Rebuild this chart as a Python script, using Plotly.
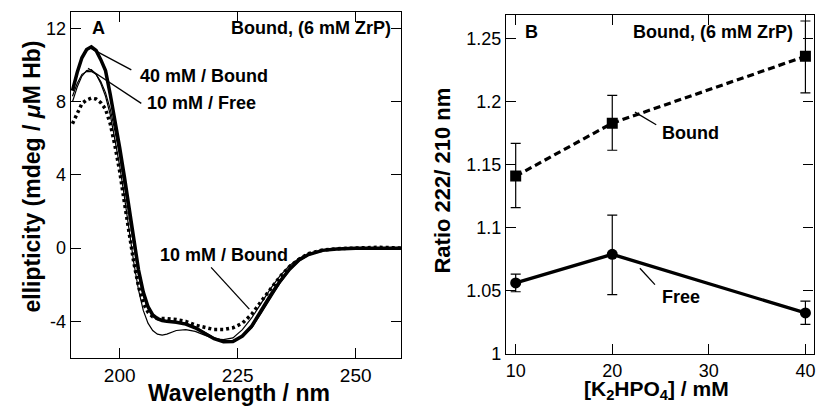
import plotly.graph_objects as go

# ---------------- Panel A data (CD spectra) ----------------
wavelength = [190, 191, 192, 193, 194, 195, 196, 197, 198, 199, 200, 201, 202, 203, 204,
              205, 206, 207, 208, 209, 210, 212, 214, 216, 218, 220, 222, 224, 226, 228,
              230, 232, 234, 236, 238, 240, 243, 246, 250, 255, 260]

bound_40mM = [8.6, 9.6, 10.4, 10.85, 11.0, 10.8, 10.3, 9.7, 8.4, 7.0, 5.5, 3.9, 2.2, 0.4, -1.2,
              -2.4, -3.2, -3.65, -3.85, -3.95, -4.0, -4.05, -4.15, -4.35, -4.65, -4.95, -5.12, -5.1, -4.8, -4.25,
              -3.4, -2.55, -1.8, -1.15, -0.65, -0.35, -0.12, -0.04, 0.0, 0.0, 0.0]

bound_20mM = [8.3, 9.0, 9.5, 9.65, 9.65, 9.5, 9.1, 8.5, 7.6, 6.4, 5.0, 3.4, 1.7, 0.0, -1.5,
              -2.6, -3.3, -3.7, -3.9, -3.95, -4.0, -4.05, -4.1, -4.3, -4.6, -4.9, -5.05, -5.05, -4.85, -4.35,
              -3.55, -2.7, -1.9, -1.2, -0.7, -0.38, -0.13, -0.04, 0.0, 0.0, 0.0]

free_10mM = [8.0, 8.8, 9.4, 9.7, 9.75, 9.5, 9.0, 8.3, 7.3, 6.0, 4.5, 2.8, 1.0, -0.8, -2.3,
             -3.4, -4.1, -4.5, -4.7, -4.75, -4.7, -4.5, -4.45, -4.55, -4.75, -4.95, -5.0, -4.9, -4.45, -3.8,
             -3.0, -2.2, -1.5, -0.95, -0.55, -0.3, -0.1, -0.03, 0.0, 0.0, 0.0]

bound_10mM = [6.8, 7.3, 7.9, 8.1, 8.2, 8.15, 7.95, 7.6, 6.8, 5.6, 4.2, 2.5, 0.8, -0.8, -2.1,
              -3.0, -3.5, -3.75, -3.85, -3.85, -3.85, -3.9, -4.0, -4.2, -4.35, -4.45, -4.45, -4.35, -4.1, -3.6,
              -2.9, -2.2, -1.55, -1.0, -0.6, -0.3, -0.1, -0.03, 0.0, 0.05, 0.0]

a_xticks = [200, 225, 250]
a_yticks = [-4, 0, 4, 8, 12]
a_yticktext = ["-4", "0", "4", "8", "12"]

# ---------------- Panel B data (ratio 222/210 nm) ----------------
k2hpo4 = [10, 20, 40]
ratio_bound = [1.141, 1.183, 1.236]
ratio_bound_err_plus = [0.026, 0.022, 0.028]
ratio_bound_err_minus = [0.025, 0.0215, 0.029]
ratio_free = [1.0563, 1.079, 1.0325]
ratio_free_err_plus = [0.007, 0.031, 0.0093]
ratio_free_err_minus = [0.007, 0.032, 0.009]

b_xticks = [10, 20, 30, 40]
b_yticks = [1.0, 1.05, 1.1, 1.15, 1.2, 1.25]
b_yticktext = ["1", "1.05", "1.1", "1.15", "1.2", "1.25"]

FONT = "Arial, Liberation Sans, Helvetica, sans-serif"

fig = go.Figure()

# Panel A traces
fig.add_trace(go.Scatter(x=wavelength, y=free_10mM, mode="lines", name="10 mM / Free",
                         line=dict(color="black", width=1.2), xaxis="x", yaxis="y"))
fig.add_trace(go.Scatter(x=wavelength, y=bound_20mM, mode="lines", name="20 mM / Bound",
                         line=dict(color="black", width=1.2), xaxis="x", yaxis="y"))
fig.add_trace(go.Scatter(x=wavelength, y=bound_10mM, mode="lines", name="10 mM / Bound",
                         line=dict(color="black", width=3.5, dash="3px,3px"), xaxis="x", yaxis="y"))
fig.add_trace(go.Scatter(x=wavelength, y=bound_40mM, mode="lines", name="40 mM / Bound",
                         line=dict(color="black", width=3.5), xaxis="x", yaxis="y"))

# Panel B traces
fig.add_trace(go.Scatter(x=k2hpo4, y=ratio_bound, mode="lines+markers", name="Bound",
                         line=dict(color="black", width=3.2, dash="7px,4px"),
                         marker=dict(symbol="square", size=11, color="black"),
                         error_y=dict(type="data", symmetric=False, array=ratio_bound_err_plus,
                                      arrayminus=ratio_bound_err_minus, color="black",
                                      thickness=1.2, width=5),
                         xaxis="x2", yaxis="y2"))
fig.add_trace(go.Scatter(x=k2hpo4, y=ratio_free, mode="lines+markers", name="Free",
                         line=dict(color="black", width=3.3),
                         marker=dict(symbol="circle", size=11, color="black"),
                         error_y=dict(type="data", symmetric=False, array=ratio_free_err_plus,
                                      arrayminus=ratio_free_err_minus, color="black",
                                      thickness=1.2, width=5),
                         xaxis="x2", yaxis="y2"))

axis_common = dict(showline=True, linecolor="black", linewidth=1.3, mirror="ticks",
                   ticks="inside", ticklen=10, tickwidth=1.3, tickcolor="black",
                   showgrid=False, zeroline=False, ticklabeloverflow="allow",
                   tickfont=dict(family=FONT, size=18, color="black"))

fig.update_layout(
    width=817, height=414,
    margin=dict(l=0, r=0, t=0, b=0),
    paper_bgcolor="white", plot_bgcolor="white",
    showlegend=False,
    font=dict(family=FONT, color="black"),
    xaxis=dict(domain=[0.0869, 0.4920], range=[189.65, 259.6], tickvals=a_xticks,
               anchor="y", **{**axis_common, "tickfont": dict(family=FONT, size=19, color="black")}),
    yaxis=dict(domain=[0.1135, 0.9710], range=[-6.01, 12.92], tickvals=a_yticks,
               ticktext=a_yticktext, anchor="x", **axis_common),
    xaxis2=dict(domain=[0.6209, 0.9982], range=[9.0, 40.84], tickvals=b_xticks,
                anchor="y2", **axis_common),
    yaxis2=dict(domain=[0.1239, 0.9621], range=[1.0, 1.2685], tickvals=b_yticks,
                ticktext=b_yticktext, anchor="x2", **axis_common),
)

bold = dict(family=FONT, size=18, color="black")
annotations = [
    # Panel labels
    dict(text="<b>A</b>", xref="x domain", yref="y domain", x=0.0846, y=0.952,
         xanchor="center", yanchor="middle", showarrow=False, font=bold),
    dict(text="<b>Bound, (6 mM ZrP)</b>", xref="x domain", yref="y domain", x=0.975, y=0.952,
         xanchor="right", yanchor="middle", showarrow=False, font=bold),
    dict(text="<b>B</b>", xref="x2 domain", yref="y2 domain", x=0.0844, y=0.950,
         xanchor="center", yanchor="middle", showarrow=False, font=bold),
    dict(text="<b>Bound, (6 mM ZrP)</b>", xref="x2 domain", yref="y2 domain", x=0.941, y=0.950,
         xanchor="right", yanchor="middle", showarrow=False, font=bold),
    # Curve labels panel A
    dict(text="<b>40 mM / Bound</b>", xref="x", yref="y", x=203.87, y=9.39,
         xanchor="left", yanchor="middle", showarrow=False, font=bold),
    dict(text="<b>10 mM / Free</b>", xref="x", yref="y", x=205.28, y=7.93,
         xanchor="left", yanchor="middle", showarrow=False, font=bold),
    dict(text="<b>10 mM / Bound</b>", xref="x", yref="y", x=208.09, y=-0.39,
         xanchor="left", yanchor="middle", showarrow=False, font=bold),
    # Curve labels panel B
    dict(text="<b>Bound</b>", xref="x2", yref="y2", x=24.96, y=1.1755,
         xanchor="left", yanchor="middle", showarrow=False, font=bold),
    dict(text="<b>Free</b>", xref="x2", yref="y2", x=24.93, y=1.0454,
         xanchor="left", yanchor="middle", showarrow=False, font=bold),
    # Axis titles
    dict(text="<b>Wavelength / nm</b>", xref="paper", yref="paper", x=0.2938, y=0.027,
         xanchor="center", yanchor="middle", showarrow=False,
         font=dict(family=FONT, size=23, color="black")),
    dict(text="<b>ellipticity (mdeg / <i>μ</i>M Hb)</b>", xref="paper", yref="paper",
         x=0.0392, y=0.563, xanchor="center", yanchor="middle", textangle=-90, showarrow=False,
         font=dict(family=FONT, size=23, color="black")),
    dict(text="<b>[K<sub>2</sub>HPO<sub>4</sub>] / mM</b>", xref="paper", yref="paper",
         x=0.8058, y=0.034, xanchor="center", yanchor="middle", showarrow=False,
         font=dict(family=FONT, size=21, color="black")),
    dict(text="<b>Ratio 222/ 210 nm</b>", xref="paper", yref="paper",
         x=0.5435, y=0.553, xanchor="center", yanchor="middle", textangle=-90, showarrow=False,
         font=dict(family=FONT, size=22, color="black")),
]
fig.update_layout(annotations=annotations)

# Pointer lines for curve labels
line_style = dict(color="black", width=1.3)
shapes = [
    dict(type="line", xref="x", yref="y", x0=194.02, y0=10.90, x1=202.47, y1=9.74, line=line_style),
    dict(type="line", xref="x", yref="y", x0=193.30, y0=9.83, x1=204.58, y1=7.91, line=line_style),
    dict(type="line", xref="x", yref="y", x0=219.37, y0=-1.05, x1=227.47, y1=-3.33, line=line_style),
    dict(type="line", xref="x2", yref="y2", x0=22.35, y0=1.1917, x1=24.55, y1=1.1817, line=line_style),
    dict(type="line", xref="x2", yref="y2", x0=22.86, y0=1.0679, x1=24.42, y1=1.055, line=line_style),
]
fig.update_layout(shapes=shapes)

post = ("document.documentElement.style.margin='0px';"
        "document.documentElement.style.overflow='hidden';"
        "document.body.style.margin='0px';"
        "document.body.style.overflow='hidden';"
        "var d=document.getElementById('{plot_id}');"
        "d.style.position='fixed';d.style.left='0px';d.style.top='0px';")

fig.write_html("out.html", config={"displayModeBar": False}, post_script=post)
